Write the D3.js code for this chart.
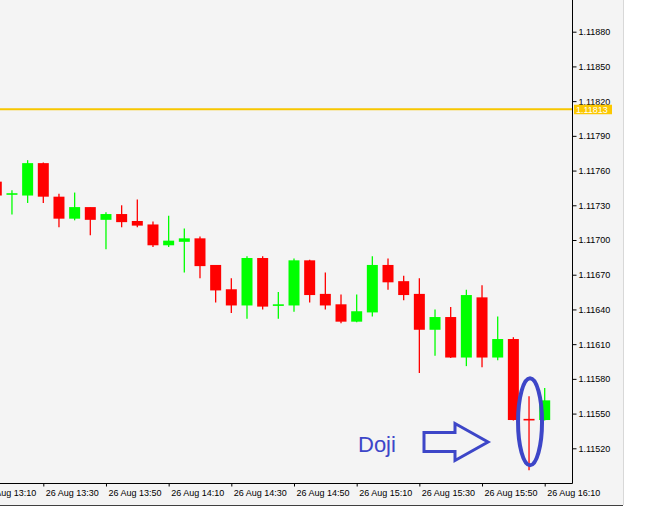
<!DOCTYPE html>
<html>
<head>
<meta charset="utf-8">
<script src="https://d3js.org/d3.v7.min.js"></script>
<style>
    body { margin: 0; background: #ffffff; }
    svg { display: block; }
    .axis text { font-family: "Liberation Sans", Arial, sans-serif; font-size: 9px; fill: #000; }
</style>
</head>
<body>
<svg id="chart"></svg>
<script>
    // 5 minute candles, 26 Aug
    var times = ["13:15", "13:20", "13:25", "13:30", "13:35", "13:40", "13:45", "13:50", "13:55", "14:00",
        "14:05", "14:10", "14:15", "14:20", "14:25", "14:30", "14:35", "14:40", "14:45", "14:50",
        "14:55", "15:00", "15:05", "15:10", "15:15", "15:20", "15:25", "15:30", "15:35", "15:40",
        "15:45", "15:50", "15:55", "16:00", "16:05", "16:10"];
    var open = [1.11750, 1.11739, 1.11738, 1.11766, 1.11737, 1.11718, 1.11728, 1.11717, 1.11722, 1.11716,
        1.11713, 1.11695, 1.11698, 1.11701, 1.11678, 1.11657, 1.11643, 1.11684, 1.11643, 1.11643,
        1.11682, 1.11653, 1.11644, 1.11629, 1.11637, 1.11678, 1.11664, 1.11653, 1.11622, 1.11633,
        1.11598, 1.11650, 1.11598, 1.11614, 1.11545, 1.11544];
    var high = [1.11751, 1.11743, 1.11769, 1.11767, 1.11740, 1.11741, 1.11728, 1.11724, 1.11730, 1.11735,
        1.11716, 1.11721, 1.11710, 1.11703, 1.11678, 1.11667, 1.11686, 1.11686, 1.11655, 1.11684,
        1.11683, 1.11672, 1.11653, 1.11653, 1.11686, 1.11684, 1.11669, 1.11667, 1.11640, 1.11642,
        1.11657, 1.11661, 1.11634, 1.11616, 1.11565, 1.11572];
    var low = [1.11737, 1.11722, 1.11732, 1.11732, 1.11711, 1.11717, 1.11704, 1.11692, 1.11711, 1.11711,
        1.11694, 1.11694, 1.11672, 1.11667, 1.11646, 1.11637, 1.11632, 1.11640, 1.11632, 1.11638,
        1.11646, 1.11640, 1.11628, 1.11629, 1.11634, 1.11657, 1.11648, 1.11585, 1.11600, 1.11598,
        1.11591, 1.11590, 1.11596, 1.11544, 1.11501, 1.11544];
    var close = [1.11738, 1.11740, 1.11766, 1.11737, 1.11718, 1.11728, 1.11717, 1.11722, 1.11715, 1.11712,
        1.11695, 1.11699, 1.11701, 1.11677, 1.11656, 1.11643, 1.11684, 1.11642, 1.11644, 1.11682,
        1.11652, 1.11643, 1.11629, 1.11638, 1.11678, 1.11663, 1.11652, 1.11622, 1.11633, 1.11598,
        1.11652, 1.11598, 1.11614, 1.11544, 1.11544, 1.11561];

    var yTicks = [1.11520, 1.11550, 1.11580, 1.11610, 1.11640, 1.11670, 1.11700, 1.11730, 1.11760, 1.11790, 1.11820, 1.11850, 1.11880];
    var xTicks = ["13:10", "13:30", "13:50", "14:10", "14:30", "14:50", "15:10", "15:30", "15:50", "16:10"];
    var priceLevel = 1.11813;
    var dojiTime = "16:05";

    var W = 667, H = 520;
    var plotRight = 572, plotBottom = 483, panelRight = 623, panelBottom = 505;

    var toDate = function (s) {
        var p = s.split(":");
        return new Date(2019, 7, 26, +p[0], +p[1]);
    };

    var candles = times.map(function (t, i) {
        return { t: toDate(t), o: open[i], h: high[i], l: low[i], c: close[i] };
    });

    var svg = d3.select("#chart").attr("width", W).attr("height", H);

    // panel background
    svg.append("rect").attr("width", W).attr("height", H).attr("fill", "#ffffff");
    svg.append("rect").attr("width", panelRight).attr("height", panelBottom).attr("fill", "#f4f4f4");
    svg.append("line").attr("x1", 0).attr("x2", panelRight).attr("y1", panelBottom + 0.5).attr("y2", panelBottom + 0.5)
        .attr("stroke", "#404040");
    svg.append("line").attr("x1", panelRight + 0.5).attr("x2", panelRight + 0.5).attr("y1", 0).attr("y2", panelBottom)
        .attr("stroke", "#d8d8d8");

    var x = d3.scaleTime()
        .domain([toDate("13:30"), toDate("16:10")])
        .range([43.3, 544.7]);

    var y = d3.scaleLinear()
        .domain([1.11520, 1.11880])
        .range([448.3, 31.7]);

    var plot = svg.append("g");
    plot.append("clipPath").attr("id", "clip")
        .append("rect").attr("width", plotRight).attr("height", plotBottom);

    var area = plot.append("g").attr("clip-path", "url(#clip)");

    // price level line
    area.append("line")
        .attr("x1", 0).attr("x2", plotRight)
        .attr("y1", y(priceLevel)).attr("y2", y(priceLevel))
        .attr("stroke", "#f7c600").attr("stroke-width", 2);

    var bodyW = 11;
    var col = function (d) { return d.c >= d.o ? "#00ff00" : "#ff0000"; };

    var g = area.selectAll(".candle").data(candles).enter().append("g").attr("class", "candle");

    g.append("line")
        .attr("x1", function (d) { return x(d.t); })
        .attr("x2", function (d) { return x(d.t); })
        .attr("y1", function (d) { return y(d.h); })
        .attr("y2", function (d) { return y(d.l); })
        .attr("stroke", col).attr("stroke-width", 1.3);

    g.append("rect")
        .attr("x", function (d) { return x(d.t) - bodyW / 2; })
        .attr("width", bodyW)
        .attr("y", function (d) { return Math.min(y(d.o), y(d.c)) - 0.5; })
        .attr("height", function (d) { return Math.max(1.6, Math.abs(y(d.o) - y(d.c))); })
        .attr("fill", col);

    // axes
    var yAxis = d3.axisRight(y).tickValues(yTicks).tickSize(4).tickPadding(2).tickFormat(d3.format(".5f"));
    svg.append("g").attr("class", "axis")
        .attr("transform", "translate(" + (plotRight + 0.5) + ",0)")
        .call(yAxis)
        .call(function (s) {
            s.select(".domain").remove();
            s.selectAll(".tick line").attr("stroke", "#000");
        });

    var xAxis = d3.axisBottom(x).tickValues(xTicks.map(toDate)).tickSize(3).tickPadding(3)
        .tickFormat(d3.timeFormat("%d %b %H:%M"));
    svg.append("g").attr("class", "axis")
        .attr("transform", "translate(0," + (plotBottom + 0.5) + ")")
        .call(xAxis)
        .call(function (s) {
            s.select(".domain").remove();
            s.selectAll(".tick line").attr("stroke", "#000");
            s.selectAll(".tick text").attr("text-anchor", "start").attr("x", 2);
        });

    // frame lines
    svg.append("line").attr("x1", 0).attr("x2", plotRight + 0.5)
        .attr("y1", plotBottom + 0.5).attr("y2", plotBottom + 0.5).attr("stroke", "#000");
    svg.append("line").attr("x1", plotRight + 0.5).attr("x2", plotRight + 0.5)
        .attr("y1", 0).attr("y2", plotBottom + 0.5).attr("stroke", "#000");

    // price level label
    svg.append("rect")
        .attr("x", plotRight + 2).attr("y", y(priceLevel) - 4.5)
        .attr("width", 38).attr("height", 9.5)
        .attr("fill", "#fcc800");
    svg.append("text")
        .attr("x", plotRight + 4).attr("y", y(priceLevel) + 3.5)
        .attr("font-family", "Liberation Sans, Arial, sans-serif").attr("font-size", 9)
        .attr("fill", "#ffffff")
        .text(d3.format(".5f")(priceLevel));

    // doji annotation
    var blue = "#3d46c8";
    var dx = x(toDate(dojiTime));
    svg.append("ellipse")
        .attr("cx", dx + 1).attr("cy", 421.7)
        .attr("rx", 12).attr("ry", 43.5)
        .attr("fill", "none").attr("stroke", blue).attr("stroke-width", 4);

    var ax = 424, ay = 442;
    var arrow = [[ax, ay - 9.5], [ax + 31, ay - 9.5], [ax + 31, ay - 18.5], [ax + 64, ay],
        [ax + 31, ay + 18.5], [ax + 31, ay + 9.5], [ax, ay + 9.5]];
    svg.append("path")
        .attr("d", d3.line()(arrow) + "Z")
        .attr("fill", "none").attr("stroke", blue).attr("stroke-width", 3)
        .attr("stroke-linejoin", "miter");

    svg.append("text")
        .attr("x", 358).attr("y", 451.7)
        .attr("font-family", "Liberation Sans, Arial, sans-serif").attr("font-size", 22)
        .attr("fill", blue)
        .text("Doji");
</script>
</body>
</html>
